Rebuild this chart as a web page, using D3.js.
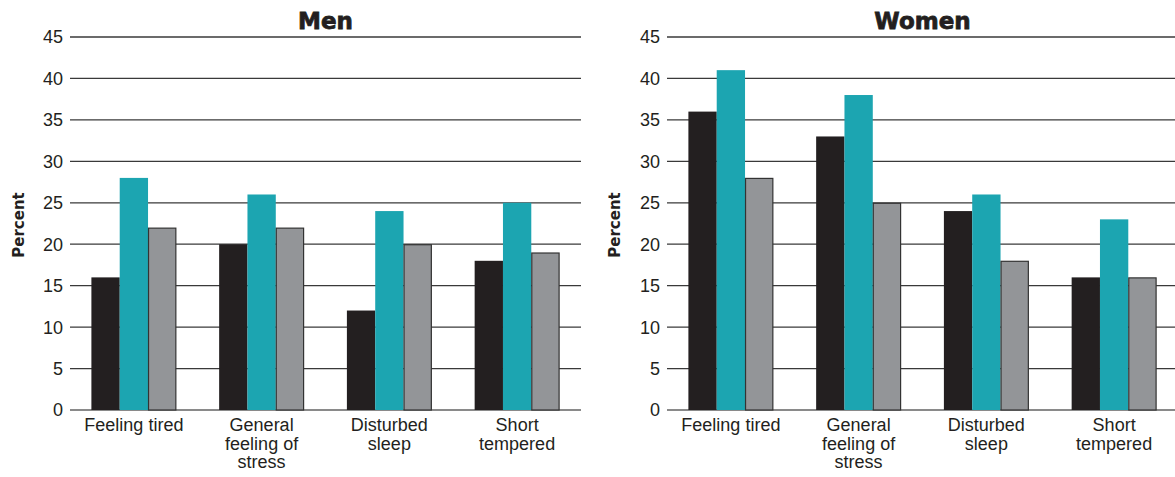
<!DOCTYPE html>
<html>
<head>
<meta charset="utf-8">
<script src="https://cdn.jsdelivr.net/npm/d3@7"></script>
<style>
  html, body { margin: 0; padding: 0; background: #fff; }
  svg { display: block; }
</style>
</head>
<body>
<svg id="chart" width="1175" height="477"></svg>
<script>
// Symptom categories (multi-line labels) and three series per panel
const categories = ["Feeling tired", "General feeling of stress", "Disturbed sleep", "Short tempered"];
const categoryLines = [["Feeling tired"], ["General", "feeling of", "stress"], ["Disturbed", "sleep"], ["Short", "tempered"]];
const seriesKeys = ["s1", "s2", "s3"];
const seriesColors = ["#231f20", "#1ca5b1", "#939598"];

const menValues = {
  s1: [16, 20, 12, 18],
  s2: [28, 26, 24, 25],
  s3: [22, 22, 20, 19]
};
const womenValues = {
  s1: [36, 33, 24, 16],
  s2: [41, 38, 26, 23],
  s3: [28, 25, 18, 16]
};
const yTicks = [0, 5, 10, 15, 20, 25, 30, 35, 40, 45];

const svg = d3.select("#chart");
const y = d3.scaleLinear().domain([0, 45]).range([410, 37]);

function drawPanel(title, values, x0, x1, labelX) {
  const g = svg.append("g");
  const x = d3.scaleBand().domain(categories).range([x0, x1])
    .paddingInner(0.335).paddingOuter(0.1675);
  const xs = d3.scaleBand().domain(seriesKeys).range([0, x.bandwidth()]);

  // gridlines
  g.selectAll("line.grid").data(yTicks).join("line")
    .attr("x1", x0).attr("x2", x1)
    .attr("y1", d => y(d)).attr("y2", d => y(d))
    .attr("stroke", d => d === 0 ? "#8a8a8a" : "#3a3a3a")
    .attr("stroke-width", d => d === 0 ? 2 : 1.3);

  // y tick labels
  g.selectAll("text.tick").data(yTicks).join("text")
    .attr("x", x0 - 7).attr("y", d => y(d))
    .attr("dy", "0.36em")
    .attr("text-anchor", "end")
    .attr("font-family", "Liberation Sans, Arial, sans-serif")
    .attr("font-size", 18)
    .attr("fill", "#231f20")
    .text(d => d);

  // bars
  seriesKeys.forEach((k, si) => {
    g.selectAll("rect." + k).data(values[k]).join("rect")
      .attr("x", (d, i) => x(categories[i]) + xs(k) + (si === 2 ? 0.5 : 0))
      .attr("y", d => y(d) + (si === 2 ? 0.5 : 0))
      .attr("width", xs.bandwidth() - (si === 2 ? 1 : 0))
      .attr("height", d => y(0) - y(d) - (si === 2 ? 0.5 : 0))
      .attr("fill", seriesColors[si])
      .attr("stroke", si === 2 ? "#333" : "none")
      .attr("stroke-width", si === 2 ? 1.2 : 0);
  });

  // category labels
  categories.forEach((c, i) => {
    const t = g.append("text")
      .attr("x", x(c) + x.bandwidth() / 2)
      .attr("y", 431)
      .attr("text-anchor", "middle")
      .attr("font-family", "Liberation Sans, Arial, sans-serif")
      .attr("font-size", 18)
      .attr("fill", "#231f20");
    categoryLines[i].forEach((line, li) => {
      t.append("tspan").attr("x", x(c) + x.bandwidth() / 2)
        .attr("dy", li === 0 ? 0 : 18.5).text(line);
    });
  });

  // panel title
  g.append("text")
    .attr("x", (x0 + x1) / 2).attr("y", 29)
    .attr("text-anchor", "middle")
    .attr("font-family", "DejaVu Sans, sans-serif")
    .attr("font-weight", "bold")
    .attr("font-size", 23)
    .attr("fill", "#231f20")
    .attr("stroke", "#231f20").attr("stroke-width", 0.8)
    .text(title);

  // y axis title
  g.append("text")
    .attr("transform", `translate(${labelX},225) rotate(-90)`)
    .attr("text-anchor", "middle")
    .attr("font-family", "DejaVu Sans, sans-serif")
    .attr("font-weight", "bold")
    .attr("font-size", 15)
    .attr("fill", "#231f20")
    .text("Percent");
}

drawPanel("Men", menValues, 70, 581, 24);
drawPanel("Women", womenValues, 667, 1178, 620);
</script>
</body>
</html>
